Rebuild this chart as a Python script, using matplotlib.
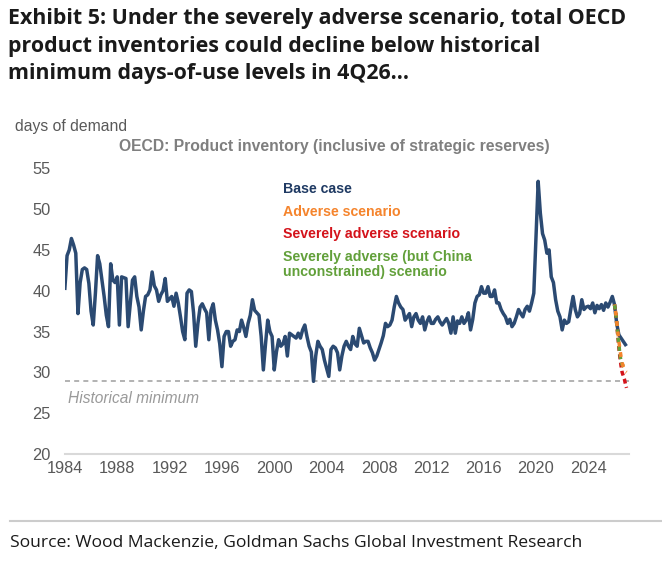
import matplotlib
matplotlib.use('Agg')
import matplotlib.pyplot as plt
import numpy as np
import pandas as pd

# ======================
# DATA
# ======================

# OECD product inventory, days of demand, base case (every 2 months from Jan 1984)
base_case = [
    40.3, 44.3, 45.0, 46.4, 45.6, 44.6,   # 1984
    37.2, 41.0, 42.6, 42.8, 42.6, 40.9,   # 1985
    37.5, 35.8, 39.7, 44.3, 43.3, 41.3,   # 1986
    39.3, 37.0, 35.6, 43.3, 41.3, 41.0,   # 1987
    41.7, 35.8, 41.7, 41.6, 41.5, 35.6,   # 1988
    38.5, 41.3, 41.7, 39.3, 38.0, 35.2,   # 1989
    37.5, 39.3, 39.5, 40.1, 42.3, 40.6,   # 1990
    40.1, 38.7, 39.5, 40.0, 41.5, 38.7,   # 1991
    39.0, 39.3, 38.1, 39.7, 38.5, 36.8,   # 1992
    35.0, 34.0, 39.7, 40.1, 39.9, 37.3,   # 1993
    33.2, 36.0, 38.0, 38.4, 37.8, 37.3,   # 1994
    34.0, 37.6, 38.4, 36.4, 35.2, 33.5,   # 1995
    30.7, 34.4, 35.0, 35.0, 33.2, 33.8,   # 1996
    34.0, 35.2, 35.0, 36.4, 35.5, 34.4,   # 1997
    36.0, 37.0, 38.9, 37.6, 37.3, 37.0,   # 1998
    34.4, 30.3, 33.5, 36.4, 35.0, 34.4,   # 1999
    30.3, 32.5, 34.0, 33.2, 33.5, 34.4,   # 2000
    32.0, 34.8, 34.6, 34.4, 34.2, 34.8,   # 2001
    34.2, 35.2, 35.8, 34.4, 33.2, 32.5,   # 2002
    28.9, 32.0, 33.8, 33.2, 32.8, 31.5,   # 2003
    30.5, 29.5, 32.8, 33.2, 33.0, 32.4,   # 2004
    30.3, 32.0, 33.2, 33.8, 33.2, 32.8,   # 2005
    34.4, 33.5, 33.2, 35.4, 34.5, 33.6,   # 2006
    33.8, 33.8, 33.0, 32.4, 31.5, 32.0,   # 2007
    32.8, 33.6, 34.5, 36.0, 35.6, 35.8,   # 2008
    36.4, 38.0, 39.3, 38.5, 38.0, 37.7,   # 2009
    36.4, 36.8, 37.2, 35.6, 36.8, 37.2,   # 2010
    36.4, 36.0, 36.8, 35.2, 36.2, 36.8,   # 2011
    36.0, 36.0, 36.5, 36.8, 36.2, 35.8,   # 2012
    36.2, 36.6, 36.0, 34.8, 36.8, 34.8,   # 2013
    36.3, 36.0, 36.8, 36.0, 36.4, 37.3,   # 2014
    35.2, 36.5, 38.5, 39.3, 39.5, 40.5,   # 2015
    39.7, 39.7, 40.5, 39.3, 39.3, 40.1,   # 2016
    38.5, 38.5, 37.7, 37.2, 36.8, 36.0,   # 2017
    36.5, 35.6, 36.0, 36.8, 37.7, 37.2,   # 2018
    36.8, 37.7, 38.1, 37.5, 38.5, 39.7,   # 2019
    46.6, 53.4, 49.5, 47.0, 46.2, 44.6,   # 2020
    45.0, 41.7, 41.0, 38.9, 37.5, 36.8,   # 2021
    35.2, 36.4, 36.0, 36.2, 37.8, 39.3,   # 2022
    37.7, 36.8, 37.2, 38.9, 37.7, 38.0,   # 2023
    38.1, 37.8, 38.5, 37.3, 38.2, 37.8,   # 2024
    38.3, 37.6, 38.5, 38.0, 38.6, 39.3,   # 2025
    38.3, 36.0, 34.6, 34.2, 33.8, 33.4,   # 2026
]

# Scenarios, monthly Jan-Dec 2026
adverse = [38.3, 37.5, 36.3, 35.0, 33.8, 32.8, 31.9, 31.2, 30.7, 30.3, 30.1, 30.0]
severely_adverse = [38.3, 37.4, 36.0, 34.5, 33.0, 31.8, 30.8, 30.0, 29.6, 29.2, 28.6, 28.1]
severely_adverse_china = [38.3, 37.4, 36.1, 34.7, 33.4, 32.2, 31.3, 30.9, 30.8, 30.7, 30.6, 30.5]

historical_minimum = 29.0
year_ticks = list(range(1984, 2025, 4))
y_ticks = list(range(20, 56, 5))

# ======================
# STYLE
# ======================

navy = '#2b4a72'
orange = '#f5842c'
red = '#d4131b'
green = '#62a03a'
grey_txt = '#595959'

plt.rcParams['font.family'] = ['Liberation Sans', 'DejaVu Sans']


def decimal_years(dates):
    return dates.year + (dates.month - 1) / 12.0


def generate_graph():
    base_dates = pd.date_range('1984-01-01', periods=len(base_case), freq='2MS')
    scen_dates = pd.date_range('2026-01-01', periods=len(adverse), freq='MS')
    xb = decimal_years(base_dates)
    xs = decimal_years(scen_dates)

    fig = plt.figure(figsize=(6.62, 5.73), dpi=100)
    ax = fig.add_axes([0.098, 0.2077, 0.852, 0.4986])

    ax.axhline(historical_minimum, color='#a6a6a6', lw=1.2, ls=(0, (3, 2.5)), zorder=1)

    ax.plot(xb, base_case, color=navy, lw=2.5, zorder=3, solid_joinstyle='round')
    ax.plot(xs, severely_adverse, color=red, lw=2.5, ls=(0, (1.4, 1.0)), zorder=4)
    ax.plot(xs, severely_adverse_china, color=green, lw=2.5, ls=(0, (1.4, 1.0)), zorder=5)
    ax.plot(xs, adverse, color=orange, lw=2.5, ls=(1.2, (1.4, 1.6)), zorder=6)

    ax.set_xlim(1984, 2027.1)
    ax.set_ylim(20, 55)
    ax.set_xticks(year_ticks)
    ax.set_yticks(y_ticks)
    ax.tick_params(length=0, labelsize=11.8, colors=grey_txt)
    ax.tick_params(axis='y', pad=10)
    ax.tick_params(axis='x', pad=5)
    for s in ['top', 'right', 'left']:
        ax.spines[s].set_visible(False)
    ax.spines['bottom'].set_color('#d9d9d9')
    ax.spines['bottom'].set_linewidth(1.5)

    # Labels inside the plot
    ax.text(0.005, 0.1925, 'Historical minimum', transform=ax.transAxes, fontsize=11.2,
            style='italic', color='#9a9a9a', va='center')
    lx = 0.387
    fs = 10.2
    ax.text(lx, 0.927, 'Base case', transform=ax.transAxes, color='#1f3a63',
            fontsize=fs, fontweight='bold', va='center')
    ax.text(lx, 0.848, 'Adverse scenario', transform=ax.transAxes, color=orange,
            fontsize=fs, fontweight='bold', va='center')
    ax.text(lx, 0.770, 'Severely adverse scenario', transform=ax.transAxes, color=red,
            fontsize=fs, fontweight='bold', va='center')
    ax.text(lx, 0.664, 'Severely adverse (but China\nunconstrained) scenario',
            transform=ax.transAxes, color=green, fontsize=fs, fontweight='bold',
            va='center', linespacing=1.1)

    # Figure texts
    fig.text(15 / 662, 1 - 127 / 573, 'days of demand', fontsize=11.3, color=grey_txt,
             va='center', ha='left')
    fig.text(334 / 662, 1 - 147 / 573,
             'OECD: Product inventory (inclusive of strategic reserves)',
             fontsize=11.3, fontweight='bold', color='#7f7f7f', va='center', ha='center')

    fig.text(8 / 662, 1 - 8 / 573,
             'Exhibit 5: Under the severely adverse scenario, total OECD\n'
             'product inventories could decline below historical\n'
             'minimum days-of-use levels in 4Q26...',
             fontsize=15.4, fontweight='bold', color='#1a1a1a', va='top', ha='left',
             family=['Open Sans', 'DejaVu Sans'], linespacing=1.42)

    fig.add_artist(plt.Line2D([10 / 662, 1.0], [1 - 521 / 573] * 2, color='#cccccc', lw=1.5))
    fig.text(10 / 662, 1 - 543 / 573,
             'Source: Wood Mackenzie, Goldman Sachs Global Investment Research',
             fontsize=12.6, color='#1a1a1a', va='center', ha='left',
             family=['Open Sans', 'DejaVu Sans'])

    fig.savefig('out.png', dpi=100)


if __name__ == '__main__':
    generate_graph()
